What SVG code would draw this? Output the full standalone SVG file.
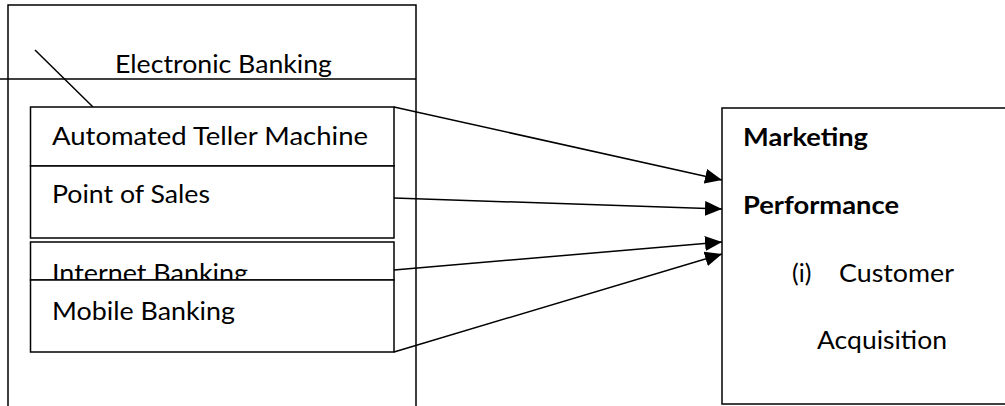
<svg xmlns="http://www.w3.org/2000/svg" width="1005" height="406" viewBox="0 0 1005 406">
  <style>
    .box { fill: #ffffff; stroke: #000000; stroke-width: 1.5; }
    .ln { fill: none; stroke: #000000; stroke-width: 1.5; }
    .lbl { font-family: "Lato", "Open Sans", "Liberation Sans", sans-serif; font-size: 25px; fill: #000000; }
    .bold { font-weight: bold; }
    .conn { fill: none; stroke: #000000; stroke-width: 1.5; marker-end: url(#head); }
  </style>
  <defs>
    <marker id="head" viewBox="0 0 17 15" refX="17" refY="7.5" markerWidth="17" markerHeight="15" markerUnits="userSpaceOnUse" orient="auto">
      <path d="M0,0 L17,7.5 L0,15 Z" fill="#000000"/>
    </marker>
  </defs>

  <rect width="1005" height="406" fill="#ffffff"/>

  <!-- Electronic Banking container -->
  <g id="electronic-banking">
    <path class="ln" d="M8,406 V5 H416 V406"/>
    <line class="ln" x1="0" y1="79" x2="416" y2="79"/>
    <line class="ln" x1="35" y1="50" x2="93" y2="107"/>
    <text class="lbl" x="115" y="73" textLength="217" lengthAdjust="spacingAndGlyphs">Electronic Banking</text>
  </g>

  <g id="atm">
    <rect class="box" x="30.5" y="107" width="363.5" height="59"/>
    <text class="lbl" x="52" y="145" textLength="316" lengthAdjust="spacingAndGlyphs">Automated Teller Machine</text>
  </g>

  <g id="pos">
    <rect class="box" x="30.5" y="166" width="363.5" height="72"/>
    <text class="lbl" x="52" y="203" textLength="158" lengthAdjust="spacingAndGlyphs">Point of Sales</text>
  </g>

  <g id="internet-banking">
    <rect class="box" x="30.5" y="242" width="363.5" height="38"/>
    <text class="lbl" x="52" y="282" textLength="196" lengthAdjust="spacingAndGlyphs">Internet Banking</text>
  </g>

  <g id="mobile-banking">
    <rect class="box" x="30.5" y="280" width="363.5" height="72"/>
    <text class="lbl" x="52" y="320" textLength="183" lengthAdjust="spacingAndGlyphs">Mobile Banking</text>
  </g>

  <!-- Marketing Performance -->
  <g id="marketing-performance">
    <rect class="box" x="722" y="108" width="300" height="296"/>
    <text class="lbl bold" x="743" y="146" textLength="125" lengthAdjust="spacingAndGlyphs">Marketing</text>
    <text class="lbl bold" x="743" y="214" textLength="156" lengthAdjust="spacingAndGlyphs">Performance</text>
    <text class="lbl" x="792" y="282">(i)</text>
    <text class="lbl" x="839" y="282" textLength="115" lengthAdjust="spacingAndGlyphs">Customer</text>
    <text class="lbl" x="817" y="349" textLength="130" lengthAdjust="spacingAndGlyphs">Acquisition</text>
  </g>

  <g id="connectors">
    <line class="conn" x1="394" y1="107" x2="722" y2="180"/>
    <line class="conn" x1="394" y1="198" x2="722" y2="209"/>
    <line class="conn" x1="394" y1="270" x2="722" y2="242"/>
    <line class="conn" x1="394" y1="352" x2="722" y2="254"/>
  </g>
</svg>
